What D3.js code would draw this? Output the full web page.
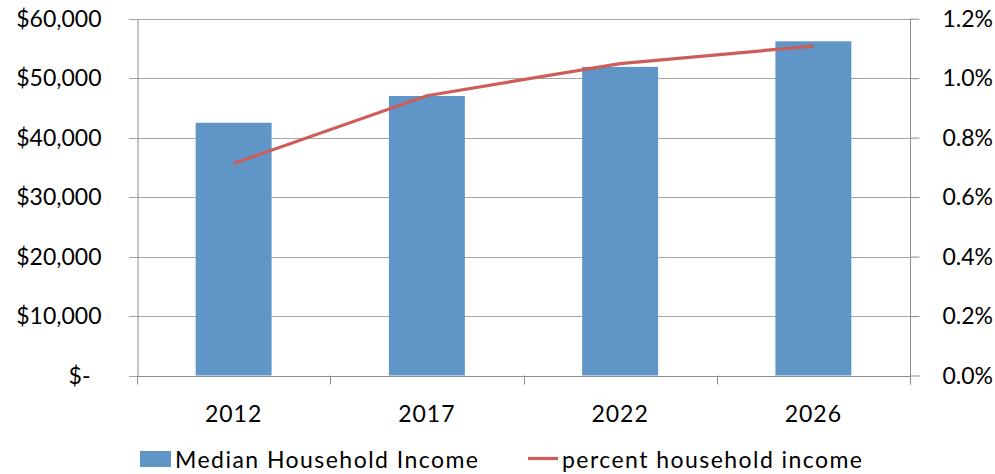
<!DOCTYPE html>
<html>
<head>
<meta charset="utf-8">
<script src="https://cdn.jsdelivr.net/npm/d3@7"></script>
<style>
  html, body { margin: 0; padding: 0; background: #fff; }
  svg text { font-family: Lato, "Open Sans", sans-serif; fill: #000; }
</style>
</head>
<body>
<svg id="chart" width="995" height="474"></svg>
<script>
// Median household income by year, with income share on a second axis
const years = ["2012", "2017", "2022", "2026"];
const medianIncome = [42500, 47000, 51900, 56200];
const percentIncome = [0.00713, 0.00941, 0.01049, 0.01108];
const incomeTicks = [0, 10000, 20000, 30000, 40000, 50000, 60000];
const percentTicks = [0, 0.002, 0.004, 0.006, 0.008, 0.010, 0.012];
const legendLabels = ["Median Household Income", "percent household income"];

const svg = d3.select("#chart");
const plot = { left: 137, right: 910, top: 18.7, bottom: 375.5 };

const x = d3.scaleBand().domain(years).range([plot.left, plot.right]).paddingInner(0.607).paddingOuter(0.3035);
const xCenter = d3.scalePoint().domain(years).range([plot.left, plot.right]).padding(0.5);
const yLeft = d3.scaleLinear().domain([0, 60000]).range([plot.bottom, plot.top]);
const yRight = d3.scaleLinear().domain([0, 0.012]).range([plot.bottom, plot.top]);

const gridColor = "#A6A6A6";
const axisColor = "#8C8C8C";
const barColor = "#5F95C7";
const lineColor = "#CC5D58";

// horizontal gridlines (extend outward as left ticks)
svg.append("g").selectAll("line").data(incomeTicks).join("line")
  .attr("x1", plot.left - 8).attr("x2", plot.right)
  .attr("y1", d => Math.round(yLeft(d)) + 0.5).attr("y2", d => Math.round(yLeft(d)) + 0.5)
  .attr("stroke", gridColor).attr("stroke-width", 1);

// bars
svg.append("g").selectAll("rect").data(years).join("rect")
  .attr("x", d => x(d)).attr("width", x.bandwidth())
  .attr("y", (d, i) => yLeft(medianIncome[i]))
  .attr("height", (d, i) => yLeft(0) - yLeft(medianIncome[i]))
  .attr("fill", barColor);

// left axis
const leftAxis = d3.axisLeft(yLeft).tickValues(incomeTicks)
  .tickFormat(d => d === 0 ? "$-" : "$" + d3.format(",")(d))
  .tickSize(0).tickPadding(36);
const gl = svg.append("g").attr("transform", `translate(${plot.left + 0.5},0)`).call(leftAxis);
gl.select(".domain").attr("stroke", axisColor);
gl.selectAll(".tick text").attr("font-size", 23).attr("dy", "0.34em")
  .filter(d => d === 0).attr("dx", -11);

// right axis
const rightAxis = d3.axisRight(yRight).tickValues(percentTicks)
  .tickFormat(d3.format(".1%")).tickSize(9).tickPadding(23);
const gr = svg.append("g").attr("transform", `translate(${plot.right + 0.5},0)`).call(rightAxis);
gr.select(".domain").attr("stroke", axisColor).attr("d", `M0,${plot.top}V${plot.bottom + 9}`);
gr.selectAll(".tick line").attr("stroke", axisColor);
gr.selectAll(".tick text").attr("font-size", 23).attr("dy", "0.34em");

// bottom axis with category boundary ticks
const bottom = svg.append("g");
bottom.append("line").attr("x1", plot.left).attr("x2", plot.right)
  .attr("y1", Math.round(plot.bottom) + 0.5).attr("y2", Math.round(plot.bottom) + 0.5)
  .attr("stroke", axisColor);
const boundaries = years.map(y => x(y) - x.step() * x.paddingInner() / 2).concat([plot.right]);
bottom.selectAll("line.b").data(boundaries).join("line").attr("class", "b")
  .attr("x1", d => Math.round(d) + 0.5).attr("x2", d => Math.round(d) + 0.5)
  .attr("y1", plot.bottom).attr("y2", plot.bottom + 9)
  .attr("stroke", axisColor);
bottom.selectAll("text").data(years).join("text")
  .attr("x", d => xCenter(d)).attr("y", 421.5)
  .attr("text-anchor", "middle").attr("font-size", 23)
  .attr("letter-spacing", 1).text(d => d);

// percent line
const line = d3.line().x((d, i) => xCenter(years[i])).y(d => yRight(d));
svg.append("path").datum(percentIncome).attr("d", line)
  .attr("fill", "none").attr("stroke", lineColor).attr("stroke-width", 3.2);

// legend
const lg = svg.append("g");
lg.append("rect").attr("x", 140).attr("y", 451).attr("width", 31).attr("height", 16).attr("fill", barColor);
lg.append("text").attr("x", 175).attr("y", 468).attr("font-size", 23)
  .attr("textLength", 303).attr("lengthAdjust", "spacing").text(legendLabels[0]);
lg.append("line").attr("x1", 528).attr("x2", 558).attr("y1", 458.5).attr("y2", 458.5)
  .attr("stroke", lineColor).attr("stroke-width", 3.2);
lg.append("text").attr("x", 562).attr("y", 468).attr("font-size", 23)
  .attr("textLength", 300).attr("lengthAdjust", "spacing").text(legendLabels[1]);
</script>
</body>
</html>
